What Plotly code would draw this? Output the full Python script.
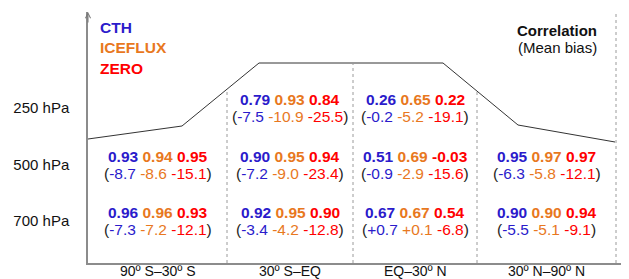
import numpy as np
import plotly.graph_objects as go

# ---------------- data ----------------
regions = ["90º S–30º S", "30º S–EQ", "EQ–30º N", "30º N–90º N"]
levels = ["250 hPa", "500 hPa", "700 hPa"]
schemes = ["CTH", "ICEFLUX", "ZERO"]

# correlation per region, per level (250, 500, 700 hPa); None = no value
cth_corr = [[None, 0.93, 0.96], [0.79, 0.90, 0.92], [0.26, 0.51, 0.67], [None, 0.95, 0.90]]
iceflux_corr = [[None, 0.94, 0.96], [0.93, 0.95, 0.95], [0.65, 0.69, 0.67], [None, 0.97, 0.90]]
zero_corr = [[None, 0.95, 0.93], [0.84, 0.94, 0.90], [0.22, -0.03, 0.54], [None, 0.97, 0.94]]

# mean bias per region, per level
cth_bias = [[None, -8.7, -7.3], [-7.5, -7.2, -3.4], [-0.2, -0.9, 0.7], [None, -6.3, -5.5]]
iceflux_bias = [[None, -8.6, -7.2], [-10.9, -9.0, -4.2], [-5.2, -2.9, 0.1], [None, -5.8, -5.1]]
zero_bias = [[None, -15.1, -12.1], [-25.5, -23.4, -12.8], [-19.1, -15.6, -6.8], [None, -12.1, -9.1]]

# schematic tropopause (horizontal position, height)
trop_x = [0, 94, 171, 355, 430, 527]
trop_h = [124, 137, 200, 200, 138, 121]

# ---------------- styling / layout ----------------
colors = ["#2B1BCB", "#E8781E", "#FF0000"]
FONT = "Liberation Sans, Arial, sans-serif"
col_edges = [0, 139, 265, 389, 528]
level_h = [155, 98, 42.5]
XMAX, YMAX = 541, 251

fig = go.Figure()

# tropopause line
fig.add_trace(go.Scatter(x=trop_x, y=trop_h, mode="lines",
                         line=dict(color="#333333", width=1), hoverinfo="skip",
                         showlegend=False))

# dotted separators (inner ones stop at the tropopause)
for i, e in enumerate(col_edges[1:]):
    top = YMAX if i == len(col_edges) - 2 else float(np.interp(e, trop_x, trop_h))
    fig.add_trace(go.Scatter(x=[e, e], y=[0, top], mode="lines",
                             line=dict(color="#9a9a9a", width=1, dash="dot"),
                             hoverinfo="skip", showlegend=False))

centers = [(col_edges[i] + col_edges[i + 1]) / 2 for i in range(len(regions))]
ann = []
corr_all = [cth_corr, iceflux_corr, zero_corr]
bias_all = [cth_bias, iceflux_bias, zero_bias]
for r in range(len(regions)):
    for l in range(len(levels)):
        if corr_all[0][r][l] is None:
            continue
        top = " ".join(f"<span style='color:{colors[s]}'>{corr_all[s][r][l]:.2f}</span>"
                       for s in range(3))
        bot = " ".join(f"<span style='color:{colors[s]}'>{bias_all[s][r][l]:+.1f}</span>"
                       for s in range(3))
        ann.append(dict(x=centers[r], y=level_h[l] + 8.5, text=f"<b>{top}</b>",
                        showarrow=False, xanchor="center", yanchor="middle",
                        font=dict(family=FONT, size=15.5, color="#222")))
        ann.append(dict(x=centers[r], y=level_h[l] - 8.5, text=f"({bot})",
                        showarrow=False, xanchor="center", yanchor="middle",
                        font=dict(family=FONT, size=15.5, color="#222")))

# region labels under the axis
for r, name in enumerate(regions):
    ann.append(dict(x=centers[r], y=0, xref="x", yref="y", text=name, showarrow=False,
                    xanchor="center", yanchor="top", yshift=1, borderpad=0,
                    font=dict(family=FONT, size=14, color="#111")))

# scheme legend
for s, name in enumerate(schemes):
    ann.append(dict(x=10, y=236 - 20.5 * s, text=f"<b>{name}</b>", showarrow=False,
                    xanchor="left", yanchor="middle",
                    font=dict(family=FONT, size=15.5, color=colors[s])))

# key
ann.append(dict(x=511, y=233, text="<b>Correlation</b>", showarrow=False,
                xanchor="right", yanchor="middle", font=dict(family=FONT, size=15, color="#111")))
ann.append(dict(x=511, y=216, text="(Mean bias)", showarrow=False,
                xanchor="right", yanchor="middle", font=dict(family=FONT, size=15, color="#111")))

# y-axis arrow head
ann.append(dict(x=0, y=YMAX, ax=0, ay=YMAX - 12, xref="x", yref="y", axref="x", ayref="y",
                text="", showarrow=True, arrowhead=5, arrowsize=1, arrowwidth=1,
                arrowcolor="#777"))

# the page body has an 8 px default margin, so the figure is sized to fit the window
fig.update_layout(
    width=621, height=271,
    margin=dict(l=80, r=0, t=4, b=16, autoexpand=False),
    paper_bgcolor="white", plot_bgcolor="white",
    annotations=ann, showlegend=False,
    xaxis=dict(range=[0, XMAX], showgrid=False, zeroline=False, showline=True,
               linecolor="#8c8c8c", linewidth=1.5, showticklabels=False,
               ticks="", automargin=False, fixedrange=True),
    yaxis=dict(range=[0, YMAX], showgrid=False, zeroline=False, showline=True,
               linecolor="#8c8c8c", linewidth=1.5, tickvals=level_h, ticktext=levels,
               ticks="", ticklabelstandoff=14, automargin=False,
               tickfont=dict(family=FONT, size=15, color="#111"), fixedrange=True),
)

fig.write_html("out.html")
